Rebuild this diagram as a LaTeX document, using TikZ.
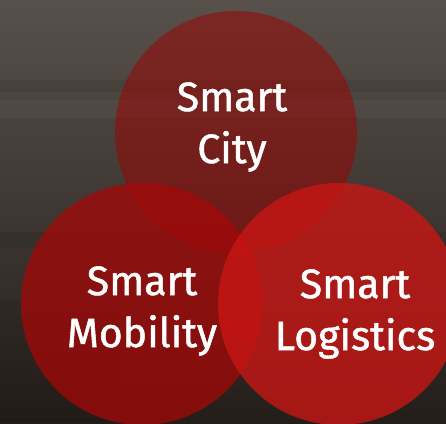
\documentclass[tikz,border=0pt]{standalone}
\usepackage{fontspec}
\setmainfont{Fira Sans}
\newfontfamily\setfont{Fira Sans}[FakeBold=1.2]
\usetikzlibrary{positioning}

\definecolor{bgtop}{RGB}{88,80,74}
\definecolor{bgmid}{RGB}{76,68,60}
\definecolor{bgbot}{RGB}{36,30,26}
\definecolor{cityred}{RGB}{160,0,0}
\definecolor{mobred}{RGB}{165,8,8}
\definecolor{logred}{RGB}{200,22,20}

\begin{document}
\begin{tikzpicture}[x=1pt, y=-1pt,
    set/.style={circle, minimum size=242pt, inner sep=0pt, draw=none},
    setname/.style={text=white, align=center, inner sep=0pt,
                    font=\setfont\fontsize{41}{52}\selectfont},
    band/.style={black, opacity=0.07}
]

\useasboundingbox (0,0) rectangle (446,423);
\clip (0,0) rectangle (446,423);

% Background
\fill[top color=bgtop, middle color=bgmid, bottom color=bgbot] (0,0) rectangle (446,423);
\fill[band] (0,80) rectangle (446,92);
\fill[band] (0,232) rectangle (446,248);
\fill[white, opacity=0.03] (0,100) rectangle (446,118);
\fill[band] (0,300) rectangle (120,423);

% Sets
\node[set, fill=cityred, fill opacity=0.5] (city) at (236,132) {};
\node[set, fill=mobred, fill opacity=0.75] (mobility) at (142,304) {};
\node[set, fill=logred, fill opacity=0.8] (logistics) at (339,304) {};

% Labels
\node[setname] (citytext) at (232,127) {Smart\\City};
\node[setname] (mobtext) at (142,311) {Smart\\Mobility};
\node[setname] (logtext) at (355,314) {Smart\\Logistics};

\end{tikzpicture}
\end{document}
